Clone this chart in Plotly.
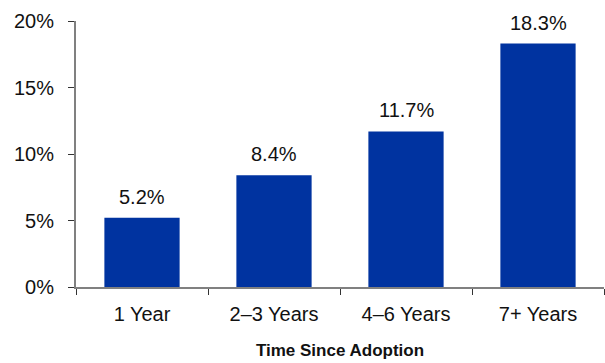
import plotly.graph_objects as go

categories = ["1 Year", "2–3 Years", "4–6 Years", "7+ Years"]
values = [5.2, 8.4, 11.7, 18.3]
y_ticks = [0, 5, 10, 15, 20]
y_tick_labels = ["0%", "5%", "10%", "15%", "20%"]

bar_color = "#0033A0"
font_family = "Liberation Sans, Arial, sans-serif"

fig = go.Figure(
    go.Bar(
        x=categories,
        y=values,
        marker=dict(color=bar_color, line=dict(width=0)),
        hoverinfo="skip",
    )
)

# value labels above each bar
for cat, val in zip(categories, values):
    fig.add_annotation(
        x=cat, y=val, text=f"{val:.1f}%", showarrow=False,
        yanchor="bottom", yshift=8,
        font=dict(family=font_family, size=20, color="#111111"),
    )

fig.update_layout(
    width=605, height=363,
    margin=dict(l=76, r=1, t=21, b=76),
    paper_bgcolor="white", plot_bgcolor="white",
    bargap=0.43,
    showlegend=False,
    font=dict(family=font_family, size=20, color="#111111"),
)

fig.update_xaxes(
    showline=True, linecolor="#808080", linewidth=2,
    ticks="outside", tickson="boundaries", ticklen=6, tickcolor="#333333",
    ticklabelstandoff=8,
    tickfont=dict(size=20),
    title=dict(text="<b>Time Since Adoption</b>", font=dict(size=17), standoff=20),
    showgrid=False,
)

fig.update_yaxes(
    range=[0, 20],
    tickvals=y_ticks, ticktext=y_tick_labels,
    showline=True, linecolor="#808080", linewidth=2,
    ticks="outside", ticklen=6, tickcolor="#333333",
    ticklabelstandoff=10,
    tickfont=dict(size=20),
    showgrid=False, zeroline=False,
)

fig.write_html("out.html")
